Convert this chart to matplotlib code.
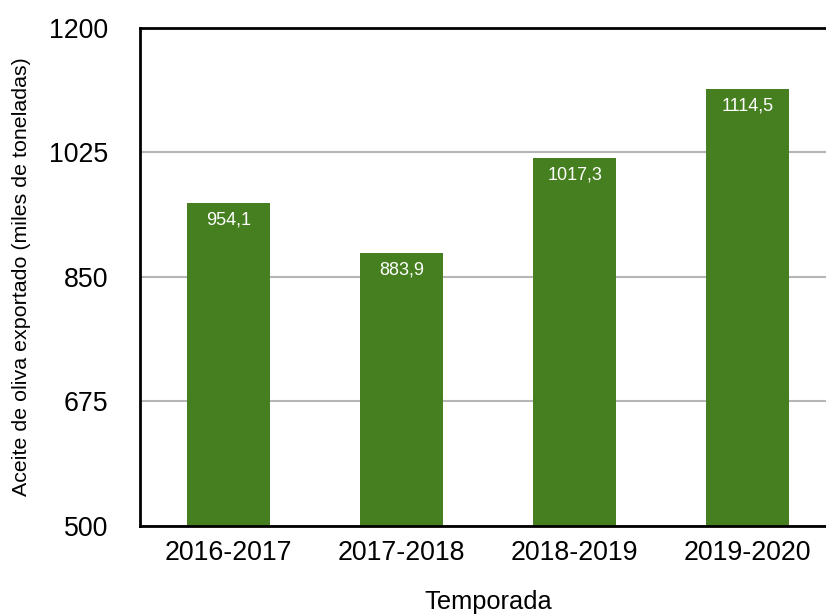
import matplotlib.pyplot as plt

plt.rcParams['font.family'] = ['Liberation Sans', 'DejaVu Sans']

temporadas = ['2016-2017', '2017-2018', '2018-2019', '2019-2020']
toneladas = [954.1, 883.9, 1017.3, 1114.5]
yticks = [500, 675, 850, 1025, 1200]

fig = plt.figure(figsize=(8.26, 6.15), dpi=100)
# the plot area runs a little past the right edge of the figure
ax = fig.add_axes([140/826, (615-526)/615, 696/826, (526-28)/615])

x = range(len(temporadas))
bars = ax.bar(x, toneladas, width=0.48, color='#467f1f', zorder=2)

for xi, v in zip(x, toneladas):
    ax.text(xi, v - 12, f'{v:.1f}'.replace('.', ','), ha='center', va='top',
            color='white', fontsize=13, zorder=3)

ax.set_xlim(-0.51, 3.51)
ax.set_ylim(500, 1200)
ax.set_yticks(yticks)
ax.set_xticks(list(x))
ax.set_xticklabels(temporadas)
ax.tick_params(axis='both', length=0)
ax.tick_params(axis='y', pad=23, labelsize=19.3)
ax.tick_params(axis='x', pad=10, labelsize=19.3)
ax.yaxis.grid(True, color='#b5b5b5', linewidth=1.5, zorder=1)
for s in ax.spines.values():
    s.set_linewidth(2)

ax.set_xlabel('Temporada', fontsize=18.3, labelpad=17)
ax.set_ylabel('Aceite de oliva exportado (miles de toneladas)', fontsize=15.4, labelpad=13)

fig.savefig('out.png', dpi=100)
